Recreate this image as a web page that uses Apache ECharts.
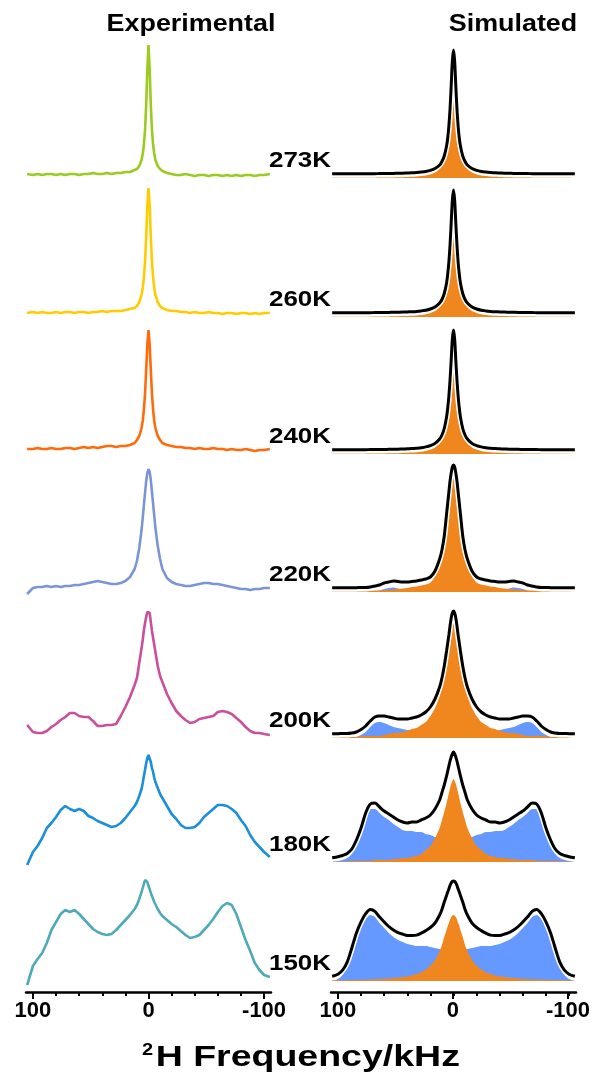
<!DOCTYPE html>
<html>
<head>
<meta charset="utf-8">
<script src="https://cdn.jsdelivr.net/npm/echarts@6/dist/echarts.min.js"></script>
<style>html,body{margin:0;padding:0;background:#fff}#c{width:593px;height:1076px}</style>
</head>
<body>
<div id="c"></div>
<script>
// ---- data (kHz axis and intensities, arbitrary units) ----
const freq = [105,100,96,92,88,84,80,76,72,68,64,60,56,52,48,44,40,36,32,28,24,20,16,12,10,8,6,5,4,3,2,1,0,-1,-2,-3,-4,-5,-6,-8,-10,-12,-16,-20,-24,-28,-32,-36,-40,-44,-48,-52,-56,-60,-64,-68,-72,-76,-80,-84,-88,-92,-96,-100,-105];
const temperatures = ['273K','260K','240K','220K','200K','180K','150K'];
const columnTitles = ['Experimental','Simulated'];
const tickMin = -100, tickMax = 100;
const minorTickStep = 20, labelStep = 100;
const axisTitleSup = '2';
const axisTitle = 'H Frequency/kHz';

// experimental spectra
const exp273 = [4,3,4,3,4,4,3,4,3,4,4,3,4,4,5,4,4,5,4,5,5,6,6,8, 9,12,18,24,33,48,73,109, 133, 109,73,48,33,24,18,12,9, 7,5,4,3,3,4,3,2,3,3,2,3,3,2,3,2,3,2,3,3,2,3,3,4];
const exp260 = [3,4,3,4,3,3,4,3,4,4,3,4,4,3,4,4,5,4,5,5,5,6,7,8, 10,14,21,28,38,54,79,111, 128, 111,79,54,38,28,21,14,10, 8,6,5,5,4,4,3,4,3,3,4,3,3,2,3,3,2,3,3,2,3,2,3,3];
const exp240 = [3,3,4,3,3,4,3,3,4,4,3,4,5,4,5,4,5,6,6,5,6,6,7,9, 12,16,24,31,42,58,82,108, 122, 108,82,58,42,31,24,16,12, 9,7,6,5,5,4,4,3,4,3,3,4,3,3,2,3,2,2,3,2,1,2,2,3];
const exp220 = [-2,4,5,5,6,5,6,5,6,6,7,7,8,9,10,11,10,9,8,8,9,11,15,23, 31,44,62,74,87,99,111,119, 123, 120,112,100,88,76,64,46,33, 23,14,10,8,7,6,6,7,8,9,9,8,8,7,6,5,4,3,3,2,3,3,4,4];
const exp200 = [13,6,5,5,7,11,14,18,21,25,25,22,21,21,17,12,12,13,13,14,22,31,41,53, 60,75,90,98,108,115,121,126, 128, 125,116,107,100,93,86,72,62, 56,44,35,27,22,18,15,16,19,20,21,22,26,27,26,24,20,16,11,7,5,5,4,3];
const exp180 = [1,14,20,28,38,43,49,56,60,57,55,57,55,50,48,45,43,41,39,40,43,48,54,60, 64,70,77,83,90,96,103,108, 111, 110,104,98,94,88,84,78,72, 68,60,52,47,41,38,38,39,43,49,53,57,61,61,60,57,53,46,40,31,24,19,14,9];
const exp150 = [3,22,29,35,45,58,66,74,78,76,78,74,69,64,59,56,54,53,54,58,63,68,73,79, 83,89,96,100,104,108,110,106, 102, 99,95,92,89,86,84,79,75, 72,68,64,61,57,53,50,51,53,58,63,69,76,82,85,83,74,61,48,37,25,18,13,11];

// simulated spectra: total (black), narrow component (orange), broad Pake component (blue)
const simTotal273 = [0.2,0.2,0.2,0.2,0.2,0.25,0.25,0.3,0.3,0.35,0.4,0.45,0.5,0.6,0.7,0.8,1,1.2,1.5,1.9,2.5,3.6,5.5,9, 12.5,18,28,36,48,65,88,113, 124, 113,88,65,48,36,28,18,12.5, 9,5.5,3.6,2.5,1.9,1.5,1.2,1,0.8,0.7,0.6,0.5,0.45,0.4,0.35,0.3,0.3,0.25,0.25,0.2,0.2,0.2,0.2,0.2];
const simNarrow273 = [0.2,0.2,0.2,0.2,0.2,0.25,0.25,0.3,0.3,0.35,0.4,0.45,0.5,0.6,0.7,0.8,1,1.2,1.5,1.9,2.5,3.6,5.5,9, 12.5,18,28,36,48,65,88,113, 124, 113,88,65,48,36,28,18,12.5, 9,5.5,3.6,2.5,1.9,1.5,1.2,1,0.8,0.7,0.6,0.5,0.45,0.4,0.35,0.3,0.3,0.25,0.25,0.2,0.2,0.2,0.2,0.2];
const simTotal260 = [0.2,0.2,0.2,0.2,0.25,0.25,0.3,0.3,0.35,0.4,0.45,0.5,0.6,0.7,0.8,0.9,1.1,1.3,1.6,2.1,2.8,4,6,10, 13.5,19.5,30,39,51,68,90,113, 123, 113,90,68,51,39,30,19.5,13.5, 10,6,4,2.8,2.1,1.6,1.3,1.1,0.9,0.8,0.7,0.6,0.5,0.45,0.4,0.35,0.3,0.3,0.25,0.25,0.2,0.2,0.2,0.2];
const simNarrow260 = [0.2,0.2,0.2,0.2,0.25,0.25,0.3,0.3,0.35,0.4,0.45,0.5,0.6,0.7,0.8,0.9,1.1,1.3,1.6,2.1,2.8,4,6,10, 13.5,19.5,30,39,51,68,90,113, 123, 113,90,68,51,39,30,19.5,13.5, 10,6,4,2.8,2.1,1.6,1.3,1.1,0.9,0.8,0.7,0.6,0.5,0.45,0.4,0.35,0.3,0.3,0.25,0.25,0.2,0.2,0.2,0.2];
const simTotal240 = [0.2,0.2,0.2,0.25,0.25,0.3,0.3,0.35,0.4,0.45,0.5,0.55,0.65,0.75,0.85,1,1.2,1.4,1.8,2.3,3.1,4.4,6.6,11, 15,21.5,33,42,54,70,90,111, 120, 111,90,70,54,42,33,21.5,15, 11,6.6,4.4,3.1,2.3,1.8,1.4,1.2,1,0.85,0.75,0.65,0.55,0.5,0.45,0.4,0.35,0.3,0.3,0.25,0.25,0.2,0.2,0.2];
const simNarrow240 = [0.2,0.2,0.2,0.25,0.25,0.3,0.3,0.35,0.4,0.45,0.5,0.55,0.65,0.75,0.85,1,1.2,1.4,1.8,2.3,3.1,4.4,6.6,11, 15,21.5,33,42,54,70,90,111, 120, 111,90,70,54,42,33,21.5,15, 11,6.6,4.4,3.1,2.3,1.8,1.4,1.2,1,0.85,0.75,0.65,0.55,0.5,0.45,0.4,0.35,0.3,0.3,0.25,0.25,0.2,0.2,0.2];
const simTotal220 = [0.3,0.3,0.3,0.3,0.3,0.3,0.5,0.5,1,2,3,5,6,7,6.5,6,6,6.5,7,8,9,11,17,29, 38,52,74,85,96,107,115,121, 123, 121,115,107,96,85,74,52,38, 29,17,11,9,8,7,6.5,6,6,6.5,7,6,5,3,2,1,0.5,0.5,0.3,0.3,0.3,0.3,0.3,0.3];
const simNarrow220 = [0.3,0.3,0.3,0.3,0.3,0.3,0.5,0.5,1,1.5,1.5,2,2,2.5,3,3.5,4,5,5.5,6.5,7.5,9.5,15.5,27.5, 36.5,50.5,72.5,83.5,94.5,105.5,113.5,119.5, 121.5, 119.5,113.5,105.5,94.5,83.5,72.5,50.5,36.5, 27.5,15.5,9.5,7.5,6.5,5.5,5,4,3.5,3,2.5,2,2,1.5,1.5,1,0.5,0.5,0.3,0.3,0.3,0.3,0.3,0.3];
const simBroad220 = [0,0,0,0,0,0,0,0,0,0.5,1.5,3,4,4.5,3.5,2.5,2,1.5,1.5,1.5,1.5,1.5,1.5,1.5, 1.5,1.5,1.5,1.5,1.5,1.5,1.5,1.5, 1.5, 1.5,1.5,1.5,1.5,1.5,1.5,1.5,1.5, 1.5,1.5,1.5,1.5,1.5,1.5,1.5,2,2.5,3.5,4.5,4,3,1.5,0.5,0,0,0,0,0,0,0,0];
const simTotal200 = [0.3,0.3,0.5,0.5,1,2,4.5,8,13,17,18,18,17,16,15,15,15,16,17,19,22,27,35,47, 56,68,83,91,99,108,116,121, 123, 121,116,108,99,91,83,68,56, 47,35,27,22,19,17,16,15,15,15,16,17,18,18,17,13,8,4.5,2,1,0.5,0.5,0.3,0.3];
const simNarrow200 = [0.3,0.3,0.5,0.5,1,1,1.5,2,2,2,2,3,4,5,5,6,7,9,10,13,16,22,30,42, 51,63,78,86,94,103,111,116, 118, 116,111,103,94,86,78,63,51, 42,30,22,16,13,10,9,7,6,5,5,4,3,2,2,2,2,1.5,1,1,0.5,0.5,0.3,0.3];
const simBroad200 = [0,0,0,0,0,1,3,6,11,15,16,15,13,11,10,9,8,7,7,6,6,5,5,5, 5,5,5,5,5,5,5,5, 5, 5,5,5,5,5,5,5,5, 5,5,5,6,6,7,7,8,9,10,11,13,15,16,15,11,6,3,1,0,0,0,0,0];
const simTotal180 = [0.3,1.3,2.5,4.5,9,18,30,45,54,55,51,47,44,41,38,36,35,36,36,38,40,43,49,58, 65.5,73,82,87,92,97,101,104, 106, 104,101,97,92,87,82,73,65.5, 58,49,43,40,38,36,36,35,36,38,41,44,47,51,55,54,45,30,18,9,4.5,2.5,1.3,0.3];
const simNarrow180 = [0.3,0.3,0.5,0.5,1,1,1,1,1,2,2,2,2,3,3,4,4,5,6,8,12,16,24,34, 42,50,59,64,69,74,78,81, 83, 81,78,74,69,64,59,50,42, 34,24,16,12,8,6,5,4,4,3,3,2,2,2,2,1,1,1,1,1,0.5,0.5,0.3,0.3];
const simBroad180 = [0,1,2,4,8,17,29,44,53,53,49,45,42,38,35,32,31,31,30,30,28,27,25,24, 23.5,23,23,23,23,23,23,23, 23, 23,23,23,23,23,23,23,23.5, 24,25,27,28,30,30,31,31,32,35,38,42,45,49,53,53,44,29,17,8,4,2,1,0];
const simTotal150 = [0.7,2.8,6.8,14.9,29,44.1,55.2,63.3,67.5,65.6,59.9,55.1,50.5,46.9,44.3,42.9,41.6,41.6,41.9,43.8,46.4,49.5,54,62, 67.5,75,81.5,85,88,91.5,94,95.5, 96, 95.5,94,91.5,88,85,81.5,75,67.5, 62,54,49.5,46.4,43.8,41.9,41.6,41.6,42.9,44.3,46.9,50.5,55.1,59.9,65.6,67.5,63.3,55.2,44.1,29,14.9,6.8,2.8,0.7];
const simNarrow150 = [0.7,0.8,0.8,0.9,1,1.1,1.2,1.3,1.5,1.6,1.9,2.1,2.5,2.9,3.3,3.9,4.6,5.6,6.9,8.8,11.4,15.5,21,30, 36,44,51,55,58,61.5,64,65.5, 66, 65.5,64,61.5,58,55,51,44,36, 30,21,15.5,11.4,8.8,6.9,5.6,4.6,3.9,3.3,2.9,2.5,2.1,1.9,1.6,1.5,1.3,1.2,1.1,1,0.9,0.8,0.8,0.7];
const simBroad150 = [0,2,6,14,28,43,54,62,66,64,58,53,48,44,41,39,37,36,35,35,35,34,33,32, 31.5,31,30.5,30,30,30,30,30, 30, 30,30,30,30,30,30.5,31,31.5, 32,33,34,35,35,35,36,37,39,41,44,48,53,58,64,66,62,54,43,28,14,6,2,0];

const expSpectra = [exp273, exp260, exp240, exp220, exp200, exp180, exp150];
const simTotals = [simTotal273, simTotal260, simTotal240, simTotal220, simTotal200, simTotal180, simTotal150];
const simNarrow = [simNarrow273, simNarrow260, simNarrow240, simNarrow220, simNarrow200, simNarrow180, simNarrow150];
const simBroad = [null, null, null, simBroad220, simBroad200, simBroad180, simBroad150];

// ---- styling / layout ----
const expColors = ['#9ACB1E', '#FFCC00', '#FF6A0A', '#7B95D3', '#C8509C', '#1B8FD8', '#4FAAB8'];
const ORANGE = '#F0871E', BLUE = '#6699FF';
const FONT = '"Liberation Sans", Arial, sans-serif';
const leftBase = [178, 316, 452, 592, 738, 866, 988];
const rightBase = [174, 313, 450, 588, 734, 858, 977];
const FILL_SHIFT = 4;
const LEFT_X = 26, RIGHT_X = 331, PW = 245;
const XMIN = -106, XMAX = 106;
const PX_PER_KHZ = PW / (XMAX - XMIN);
const AXIS_TOP = 900, AXIS_Y = 992;

const grids = [], xAxes = [], yAxes = [], series = [];
function addGrid(left, top, width, height, ymin, ymax) {
  const gi = grids.length;
  grids.push({ left: left, width: width, top: top, height: height });
  yAxes.push({ gridIndex: gi, type: 'value', min: ymin, max: ymax, show: false });
  return gi;
}
function addPlotGrid(left, base) {
  const gi = addGrid(left, base - 140, PW, 150, -10, 140);
  xAxes.push({ gridIndex: gi, type: 'value', min: XMIN, max: XMAX, inverse: true, show: false });
  return gi;
}
const pair = arr => freq.map((f, i) => [f, arr[i]]);

for (let i = 0; i < 7; i++) {
  const a = addPlotGrid(LEFT_X, leftBase[i]);
  series.push({ type: 'line', xAxisIndex: a, yAxisIndex: a, data: pair(expSpectra[i]), symbol: 'none',
    lineStyle: { color: expColors[i], width: 2.6 }, silent: true });
  const f = addPlotGrid(RIGHT_X, rightBase[i] + FILL_SHIFT);
  const l = addPlotGrid(RIGHT_X, rightBase[i]);
  if (simBroad[i]) {
    series.push({ type: 'line', xAxisIndex: f, yAxisIndex: f, data: pair(simBroad[i]), symbol: 'none', smooth: 0.3,
      lineStyle: { width: 0, opacity: 0 }, areaStyle: { color: BLUE, opacity: 1 }, silent: true });
  }
  series.push({ type: 'line', xAxisIndex: f, yAxisIndex: f, data: pair(simNarrow[i]), symbol: 'none', smooth: 0.3,
    lineStyle: { width: 0, opacity: 0 }, areaStyle: { color: ORANGE, opacity: 1 }, silent: true });
  series.push({ type: 'line', xAxisIndex: l, yAxisIndex: l, data: pair(simTotals[i]), symbol: 'none', smooth: 0.3,
    lineStyle: { color: '#fff', width: 6 }, silent: true });
  series.push({ type: 'line', xAxisIndex: l, yAxisIndex: l, data: pair(simTotals[i]), symbol: 'none', smooth: 0.3,
    lineStyle: { color: '#000', width: 3 }, silent: true });
}

// bottom frequency axes: full-width axis line, then ticks/labels on the -100..100 span
[LEFT_X, RIGHT_X].forEach(left => {
  const g1 = addGrid(left, AXIS_TOP, PW, AXIS_Y - AXIS_TOP, 0, 1);
  xAxes.push({ gridIndex: g1, type: 'value', min: XMIN, max: XMAX, inverse: true, position: 'bottom',
    axisLine: { show: true, lineStyle: { color: '#000', width: 2.5 } },
    axisTick: { show: false }, axisLabel: { show: false }, splitLine: { show: false } });
  const tl = left + (XMAX - tickMax) * PX_PER_KHZ;
  const tw = (tickMax - tickMin) * PX_PER_KHZ;
  const g2 = addGrid(tl, AXIS_TOP, tw, AXIS_Y - AXIS_TOP, 0, 1);
  xAxes.push({ gridIndex: g2, type: 'value', min: tickMin, max: tickMax, interval: minorTickStep, inverse: true, position: 'bottom',
    axisLine: { show: false },
    axisTick: { show: true, length: 4, lineStyle: { color: '#000', width: 2 } },
    axisLabel: { show: false }, splitLine: { show: false } });
  const g3 = addGrid(tl, AXIS_TOP, tw, AXIS_Y - AXIS_TOP, 0, 1);
  xAxes.push({ gridIndex: g3, type: 'value', min: tickMin, max: tickMax, interval: labelStep, inverse: true, position: 'bottom',
    axisLine: { show: false },
    axisTick: { show: true, length: 7, lineStyle: { color: '#000', width: 2 } },
    axisLabel: { show: true, color: '#000', fontSize: 22, fontWeight: 'bold', fontFamily: FONT, margin: 8,
      showMinLabel: true, showMaxLabel: true, hideOverlap: false },
    splitLine: { show: false } });
});

// texts
const elements = [];
function txt(text, x, y, size, sx, align) {
  elements.push({ type: 'text', x: x, y: y, scaleX: sx, silent: true,
    style: { text: text, fill: '#000', font: 'bold ' + size + 'px ' + FONT,
      align: align, textAlign: align, verticalAlign: 'middle', textVerticalAlign: 'middle' } });
}
txt(columnTitles[0], 191, 24, 24, 1.12, 'center');
txt(columnTitles[1], 513, 24, 24, 1.12, 'center');
temperatures.forEach((t, i) => txt(t, RIGHT_X, rightBase[i] - 13, 22, 1.18, 'right'));
elements.push({ type: 'text', x: 301, y: 1058, scaleX: 1.25, silent: true,
  style: { text: '{s|' + axisTitleSup + '}{t|' + axisTitle + '}', align: 'center', textAlign: 'center',
    verticalAlign: 'middle', textVerticalAlign: 'middle', fill: '#000',
    rich: { s: { fontSize: 16, fontWeight: 'bold', fontFamily: FONT, fill: '#000', verticalAlign: 'top', padding: [0, 2, 0, 0] },
            t: { fontSize: 30, fontWeight: 'bold', fontFamily: FONT, fill: '#000', verticalAlign: 'middle' } } } });

const chart = echarts.init(document.getElementById('c'), null, { renderer: 'canvas' });
chart.setOption({
  animation: false,
  backgroundColor: '#fff',
  grid: grids, xAxis: xAxes, yAxis: yAxes, series: series,
  graphic: { elements: elements }
});
</script>
</body>
</html>
